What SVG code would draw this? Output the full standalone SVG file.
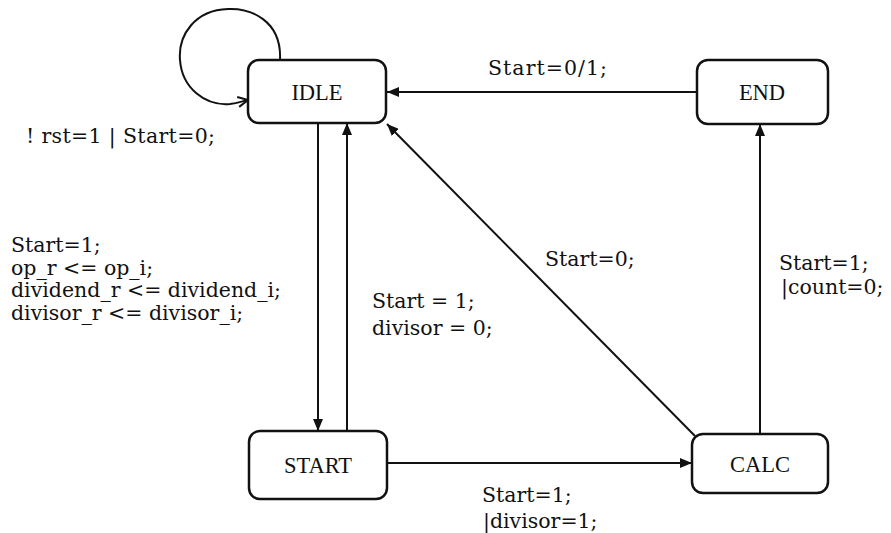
<svg xmlns="http://www.w3.org/2000/svg" width="891" height="533" viewBox="0 0 891 533">
  <style>
    .state rect { fill: #fff; stroke: #111; stroke-width: 2.5; }
    .state text { font-family: "Liberation Serif", "Times New Roman", serif; font-size: 22.5px; fill: #111; text-anchor: middle; }
    .edge { fill: none; stroke: #111; stroke-width: 2; }
    .lbl { font-family: "DejaVu Serif", "Liberation Serif", serif; font-size: 20.5px; fill: #111; }
  </style>
  <defs>
    <marker id="arrow" viewBox="0 0 12 10" refX="12" refY="5" markerWidth="12" markerHeight="10" markerUnits="userSpaceOnUse" orient="auto">
      <path d="M0,0 L12,5 L0,10 z" fill="#111"/>
    </marker>
    <marker id="open" viewBox="0 0 12 12" refX="11" refY="6" markerWidth="12" markerHeight="12" markerUnits="userSpaceOnUse" orient="auto">
      <path d="M1,1 L11,6 L1,11" fill="none" stroke="#111" stroke-width="2"/>
    </marker>
  </defs>
  <rect width="891" height="533" fill="#fff"/>

  <!-- transitions -->
  <g id="connectors">
    <path class="edge" d="M280,60 C282,20 250,8 228,9 C195,10 178,35 180,60 C182,88 205,106 230,104 C238,103 243,101 248,100" marker-end="url(#open)"/>
    <path class="edge" d="M697,92 L387,92" marker-end="url(#arrow)"/>
    <path class="edge" d="M318,123 L318,431" marker-end="url(#arrow)"/>
    <path class="edge" d="M347,431 L347,123" marker-end="url(#arrow)"/>
    <path class="edge" d="M695,436 L387,124" marker-end="url(#arrow)"/>
    <path class="edge" d="M760,434 L760,124" marker-end="url(#arrow)"/>
    <path class="edge" d="M387,463 L692,463" marker-end="url(#arrow)"/>
  </g>

  <!-- transition labels -->
  <g id="labels">
    <text class="lbl" x="26" y="143" textLength="189" lengthAdjust="spacing">! rst=1 | Start=0;</text>
    <text class="lbl" x="11" y="252">Start=1;</text>
    <text class="lbl" x="11" y="275">op_r &lt;= op_i;</text>
    <text class="lbl" x="11" y="297">dividend_r &lt;= dividend_i;</text>
    <text class="lbl" x="11" y="320">divisor_r &lt;= divisor_i;</text>
    <text class="lbl" x="372" y="308">Start = 1;</text>
    <text class="lbl" x="372" y="335">divisor = 0;</text>
    <text class="lbl" x="545" y="266">Start=0;</text>
    <text class="lbl" x="488" y="75" textLength="119" lengthAdjust="spacing">Start=0/1;</text>
    <text class="lbl" x="779" y="270">Start=1;</text>
    <text class="lbl" x="781" y="294">|count=0;</text>
    <text class="lbl" x="482" y="502">Start=1;</text>
    <text class="lbl" x="483" y="528">|divisor=1;</text>
  </g>

  <!-- states -->
  <g id="IDLE" class="state">
    <rect x="248" y="60" width="138" height="63" rx="11"/>
    <text x="317" y="100">IDLE</text>
  </g>
  <g id="END" class="state">
    <rect x="697" y="60" width="131" height="64" rx="11"/>
    <text x="762" y="100">END</text>
  </g>
  <g id="START" class="state">
    <rect x="249" y="431" width="138" height="68" rx="11"/>
    <text x="318" y="473">START</text>
  </g>
  <g id="CALC" class="state">
    <rect x="692" y="434" width="136" height="59" rx="11"/>
    <text x="760" y="472">CALC</text>
  </g>
</svg>
